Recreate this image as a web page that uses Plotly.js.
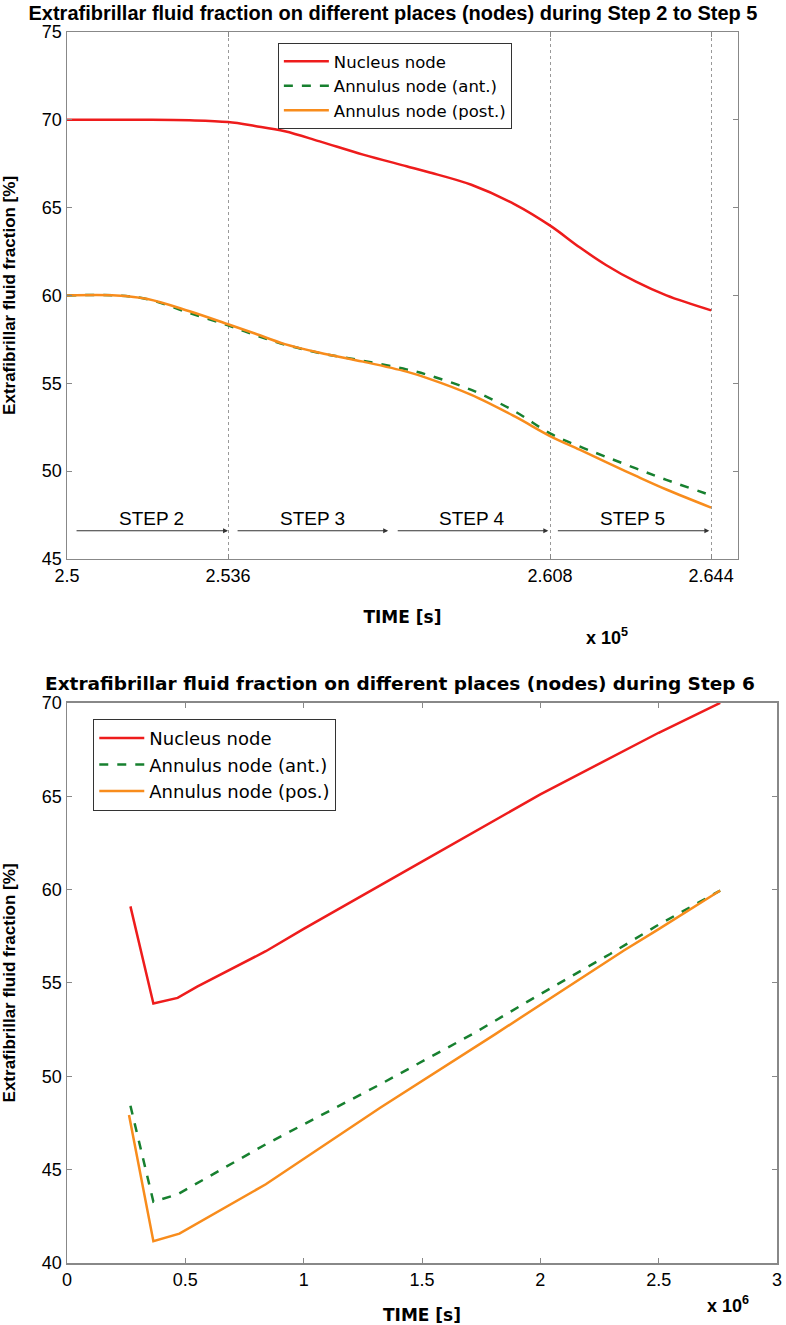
<!DOCTYPE html>
<html>
<head>
<meta charset="utf-8">
<script src="https://cdn.plot.ly/plotly-3.0.1.min.js"></script>
<style>
  body { margin: 0; background: #fff; }
  #plot { width: 786px; height: 1325px; }
</style>
</head>
<body>
<div id="plot"></div>
<script>
// Step 2 to Step 5 (time in units of 1e5 s)
const stepTime = [2.5, 2.511, 2.518, 2.5274, 2.536, 2.542, 2.5487, 2.5565, 2.5662, 2.5759,
                  2.5807, 2.5904, 2.6001, 2.6081, 2.6146, 2.6204, 2.6272, 2.634, 2.644];
const stepNucleus = [70.0, 70.0, 70.0, 69.97, 69.87, 69.65, 69.35, 68.77, 68.02, 67.36,
                     67.03, 66.3, 65.19, 63.96, 62.74, 61.75, 60.78, 60.0, 59.15];
const stepAnt = [60.0, 60.0, 59.78, 59.0, 58.3, 57.75, 57.2, 56.72, 56.28, 55.79,
                 55.47, 54.62, 53.4, 52.13, 51.4, 50.82, 50.15, 49.5, 48.62];
const stepPost = [60.0, 60.0, 59.8, 59.1, 58.36, 57.83, 57.23, 56.74, 56.23, 55.66,
                  55.28, 54.34, 53.11, 51.98, 51.22, 50.52, 49.72, 48.95, 47.92];
const stepTicks = [2.5, 2.536, 2.608, 2.644];
const stepNames = ['STEP 2', 'STEP 3', 'STEP 4', 'STEP 5'];
const stepFrom = [2.5018, 2.5378, 2.5736, 2.6094];
const stepTo = [2.536, 2.5718, 2.6076, 2.6436];

// Step 6 (time in units of 1e6 s)
const s6NucTime = [0.268, 0.365, 0.4675, 0.55, 0.84, 1.0, 1.5, 2.0, 2.5, 2.76];
const s6Nuc = [59.1, 53.9, 54.2, 54.8, 56.7, 57.9, 61.5, 65.1, 68.4, 70.0];
const s6AntTime = [0.268, 0.365, 0.4675, 0.84, 1.325, 1.713, 2.0, 2.295, 2.49, 2.76];
const s6Ant = [48.42, 43.28, 43.68, 46.36, 49.58, 52.26, 54.4, 56.55, 58.05, 59.95];
const s6PosTime = [0.262, 0.365, 0.475, 0.84, 1.325, 1.81, 2.353, 2.49, 2.76];
const s6Pos = [47.93, 41.17, 41.57, 44.22, 48.33, 52.26, 56.74, 57.8, 59.95];

const RED = '#ee1c1c', GREEN = '#17802f', ORANGE = '#f88c1c';
const FONT = 'Liberation Sans, Arial, sans-serif';
const WIDE = 'DejaVu Sans, Liberation Sans, sans-serif';

const traces = [
    { x: stepTime, y: stepNucleus, mode: 'lines', name: 'Nucleus node', line: { color: RED, width: 2.5, shape: 'spline' }, xaxis: 'x', yaxis: 'y', legend: 'legend' },
    { x: stepTime, y: stepAnt, mode: 'lines', name: 'Annulus node (ant.)', line: { color: GREEN, width: 2.5, dash: 'dash', shape: 'spline' }, xaxis: 'x', yaxis: 'y', legend: 'legend' },
    { x: stepTime, y: stepPost, mode: 'lines', name: 'Annulus node (post.)', line: { color: ORANGE, width: 2.5, shape: 'spline' }, xaxis: 'x', yaxis: 'y', legend: 'legend' },
    { x: s6NucTime, y: s6Nuc, mode: 'lines', name: 'Nucleus node', line: { color: RED, width: 2.5 }, xaxis: 'x2', yaxis: 'y2', legend: 'legend2' },
    { x: s6AntTime, y: s6Ant, mode: 'lines', name: 'Annulus node (ant.)', line: { color: GREEN, width: 2.5, dash: 'dash' }, xaxis: 'x2', yaxis: 'y2', legend: 'legend2' },
    { x: s6PosTime, y: s6Pos, mode: 'lines', name: 'Annulus node (pos.)', line: { color: ORANGE, width: 2.5 }, xaxis: 'x2', yaxis: 'y2', legend: 'legend2' }
];

const frame = {
    showline: true, mirror: 'ticks', linecolor: '#888', linewidth: 1.5,
    ticks: 'inside', ticklen: 5, tickcolor: '#888', zeroline: false,
    tickfont: { family: FONT, size: 18, color: '#000' }
};
const axTitle = (txt, fam, size) => ({ text: txt, font: { family: fam, size: size, color: '#000', weight: 'bold' } });

const annotations = [];
stepNames.forEach((name, i) => {
    annotations.push({
        xref: 'x', yref: 'y', x: stepTo[i], y: 46.6, ax: stepFrom[i], ay: 46.6,
        axref: 'x', ayref: 'y', text: '', showarrow: true,
        arrowhead: 2, arrowsize: 0.9, arrowwidth: 1.1, arrowcolor: '#333'
    });
    annotations.push({
        xref: 'x', yref: 'y', x: (stepFrom[i] + stepTo[i]) / 2, y: 46.6, yanchor: 'bottom',
        text: name, showarrow: false, font: { family: FONT, size: 19, color: '#000' }
    });
});
annotations.push({
    xref: 'paper', yref: 'paper', x: 0.793, y: 0.509, text: '<b>x 10<sup>5</sup></b>',
    showarrow: false, font: { family: FONT, size: 18, color: '#000' }
});
annotations.push({
    xref: 'paper', yref: 'paper', x: 0.963, y: -0.045, text: '<b>x 10<sup>6</sup></b>',
    showarrow: false, font: { family: FONT, size: 18, color: '#000' }
});
annotations.push({
    xref: 'paper', yref: 'paper', x: 0.469, y: 0.455, yanchor: 'bottom', yshift: 7,
    text: '<b>Extrafibrillar fluid fraction on different places (nodes) during Step 6</b>',
    showarrow: false, font: { family: WIDE, size: 18.5, color: '#000' }
});

const legendStyle = {
    bgcolor: '#fff', bordercolor: '#333', borderwidth: 1, itemwidth: 45,
    tracegroupgap: 0
};

const layout = {
    width: 786, height: 1325,
    paper_bgcolor: '#fff', plot_bgcolor: '#fff',
    margin: { l: 67, r: 9, t: 32, b: 62 },
    showlegend: true,
    title: {
        text: '<b>Extrafibrillar fluid fraction on different places (nodes) during Step 2 to Step 5</b>',
        x: 0.5, xref: 'container', y: 0.9905, yanchor: 'middle',
        font: { family: FONT, size: 20, color: '#000' }
    },
    xaxis: Object.assign({}, frame, {
        domain: [0, 0.945], range: [2.5, 2.65], anchor: 'y',
        tickvals: stepTicks, ticktext: stepTicks.map(String),
        showgrid: true, griddash: 'dot', gridcolor: '#999', gridwidth: 1,
        title: Object.assign(axTitle('TIME [s]', WIDE, 17), { standoff: 26 })
    }),
    yaxis: Object.assign({}, frame, {
        domain: [0.572, 1], range: [45, 75], dtick: 5, anchor: 'x', showgrid: false,
        title: Object.assign(axTitle('Extrafibrillar fluid fraction [%]', FONT, 17), { standoff: 22 })
    }),
    xaxis2: Object.assign({}, frame, {
        domain: [0, 1], range: [0, 3], dtick: 0.5, anchor: 'y2', showgrid: false,
        title: Object.assign(axTitle('TIME [s]', WIDE, 17), { standoff: 22 })
    }),
    yaxis2: Object.assign({}, frame, {
        domain: [0, 0.455], range: [40, 70], dtick: 5, anchor: 'x2', showgrid: false,
        title: Object.assign(axTitle('Extrafibrillar fluid fraction [%]', FONT, 17), { standoff: 22 })
    }),
    legend: Object.assign({}, legendStyle, {
        x: 0.297, y: 0.991, xanchor: 'left', yanchor: 'top',
        font: { family: WIDE, size: 16.5, color: '#000' }
    }),
    legend2: Object.assign({}, legendStyle, {
        x: 0.037, y: 0.442, xanchor: 'left', yanchor: 'top',
        font: { family: WIDE, size: 18, color: '#000' }
    }),
    annotations: annotations
};

Plotly.newPlot('plot', traces, layout, { staticPlot: true });
</script>
</body>
</html>
